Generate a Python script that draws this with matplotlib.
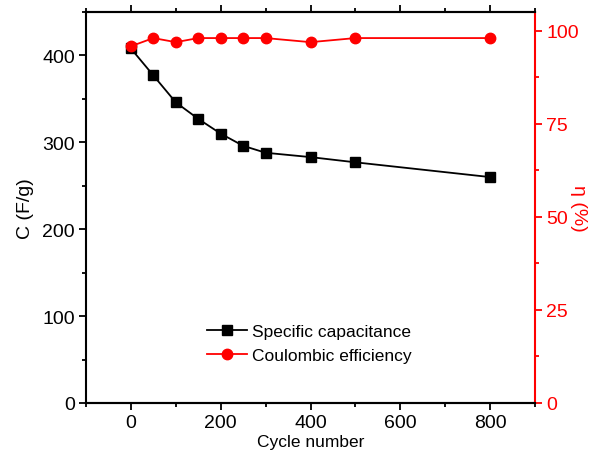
import numpy as np
import matplotlib
matplotlib.use("Agg")
import matplotlib.pyplot as plt
from matplotlib.ticker import MultipleLocator

plt.rcParams['font.family'] = ['Liberation Sans', 'DejaVu Sans']

## Daten
cycles = [0, 50, 100, 150, 200, 250, 300, 400, 500, 800]
cap = [408, 377, 346, 327, 310, 296, 288, 283, 277, 260]
eff = [95.8, 98.0, 96.9, 98.0, 98.0, 98.0, 98.0, 96.9, 98.0, 98.0]

fig = plt.figure(figsize=(5.94, 4.52), dpi=100)
ax = fig.add_axes([86/594, 1 - 404/452, (535-86)/594, (404-13)/452])
ax2 = ax.twinx()

l1, = ax.plot(cycles, cap, 'k-', marker='s', ms=7, lw=1.3, label='Specific capacitance')
l2, = ax2.plot(cycles, eff, 'r-', marker='o', ms=7.5, lw=1.3, label='Coulombic efficiency')

ax.set_xlim(-100, 900)
ax.set_ylim(0, 450)
ax2.set_ylim(0, 105)

ax.xaxis.set_major_locator(MultipleLocator(200))
ax.xaxis.set_minor_locator(MultipleLocator(100))
ax.yaxis.set_major_locator(MultipleLocator(100))
ax.yaxis.set_minor_locator(MultipleLocator(50))
ax2.yaxis.set_major_locator(MultipleLocator(25))
ax2.yaxis.set_minor_locator(MultipleLocator(12.5))

for a in (ax, ax2):
    for s in a.spines.values():
        s.set_linewidth(1.5)
ax2.spines['right'].set_color('red')
ax2.spines['left'].set_visible(False)
ax.spines['right'].set_visible(False)

ax.tick_params(axis='both', which='both', direction='out', labelsize=14, width=1.3, top=True)
ax.tick_params(which='major', length=5, pad=3)
ax.tick_params(which='minor', length=3)
ax.tick_params(axis='x', which='both', labeltop=False)
ax2.tick_params(axis='y', which='both', direction='out', colors='red', labelsize=14, width=1.3)
ax2.tick_params(which='major', length=5, pad=3)
ax2.tick_params(which='minor', length=3)

ax.set_xlabel('Cycle number', fontsize=12.5, labelpad=2)
ax.set_ylabel('C (F/g)', fontsize=14, labelpad=6)
ax2.set_ylabel('η (%)', fontsize=14, color='red', rotation=-90, labelpad=6)

ax.legend([l1, l2], ['Specific capacitance', 'Coulombic efficiency'],
          frameon=False, fontsize=12.5, loc='center', bbox_to_anchor=(0.498, 0.152),
          handlelength=2.3, handletextpad=0.3, labelspacing=0.5, borderaxespad=0)

fig.savefig('out.png', dpi=100)
